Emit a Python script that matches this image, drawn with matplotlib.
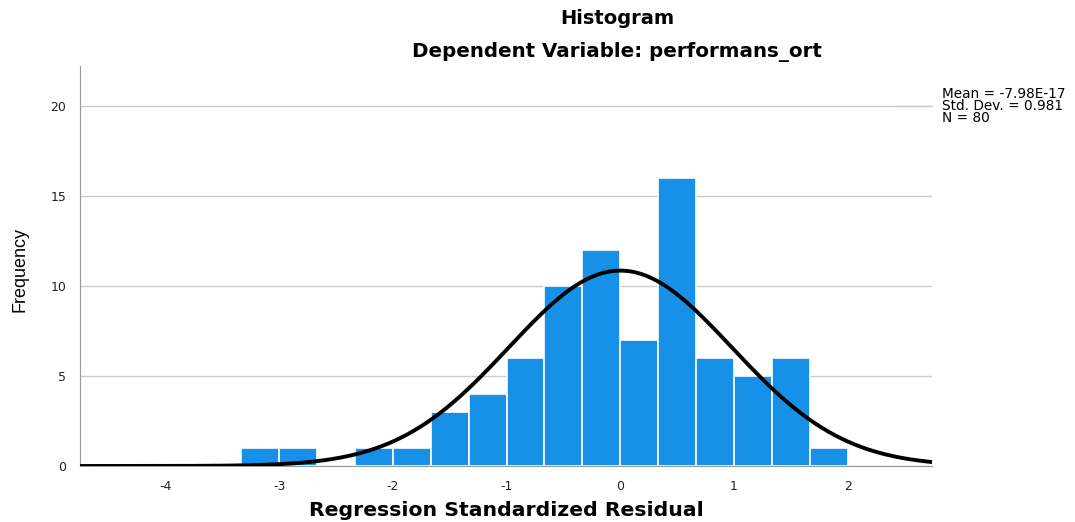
import numpy as np
import matplotlib.pyplot as plt

plt.rcParams['font.family'] = ['DejaVu Sans']
plt.rcParams['axes.unicode_minus'] = False

# histogram of residuals (bin width 1/3)
bin_left = [-10/3, -9/3, -7/3, -6/3, -5/3, -4/3, -3/3, -2/3, -1/3, 0, 1/3, 2/3, 3/3, 4/3, 5/3]
counts = [1, 1, 1, 1, 3, 4, 6, 10, 12, 7, 16, 6, 5, 6, 1]
bin_width = 1/3

mean = -7.98e-17
std = 0.981
n = 80

fig = plt.figure(figsize=(10.75, 5.22), dpi=100)
ax = fig.add_axes([80/1075, 1 - 466/522, 852/1075, 400/522])

ax.bar(bin_left, counts, width=bin_width, align='edge', color='#1791e8',
       edgecolor='white', linewidth=1.2, zorder=2)

xs = np.linspace(-4.75, 2.75, 400)
pdf = n * bin_width / (std * np.sqrt(2 * np.pi)) * np.exp(-0.5 * ((xs - mean) / std) ** 2)
ax.plot(xs, pdf, color='black', linewidth=2.8, zorder=3)

ax.set_xlim(-4.75, 2.74)
ax.set_ylim(0, 22.2)
ax.set_xticks([-4, -3, -2, -1, 0, 1, 2])
ax.set_yticks([0, 5, 10, 15, 20])
ax.tick_params(length=0, labelsize=9, colors='#222222', pad=10)
ax.grid(axis='y', color='#cccccc', linewidth=1, zorder=0)
for s in ['top', 'right']:
    ax.spines[s].set_visible(False)
ax.spines['left'].set_color('#999999')
ax.spines['bottom'].set_color('#999999')

fig.text(617/1075, 1 - 18/522, 'Histogram', ha='center', va='center',
         fontsize=14, fontweight='bold')
fig.text(617/1075, 1 - 52/522, 'Dependent Variable: performans_ort', ha='center',
         va='center', fontsize=14.3, fontweight='bold')
fig.text(506/1075, 1 - 511/522, 'Regression Standardized Residual', ha='center',
         va='center', fontsize=14.7, fontweight='bold')
fig.text(20/1075, 1 - 270/522, 'Frequency', ha='center', va='center', rotation=90,
         fontsize=13, family=['Liberation Sans Narrow', 'Liberation Sans'])

fig.text(942/1075, 1 - 87/522, 'Mean = -7.98E-17\nStd. Dev. = 0.981\nN = 80',
         ha='left', va='top', fontsize=9.8, linespacing=0.83)
fig.lines.append(plt.Line2D([897/1075, 932/1075], [1 - 106/522, 1 - 106/522],
                            transform=fig.transFigure, color='#cccccc', linewidth=1))

fig.savefig('out.png', dpi=100)
